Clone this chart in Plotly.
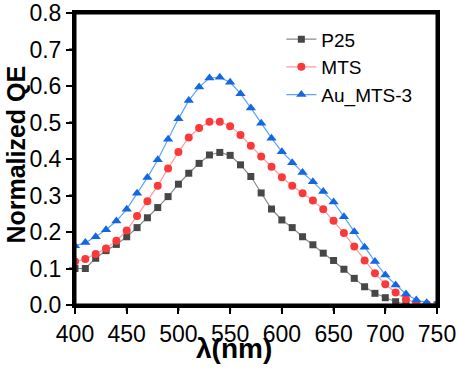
import plotly.graph_objects as go

wavelength = list(range(400, 751, 10))

p25 = [0.100, 0.100, 0.128, 0.149, 0.166, 0.187, 0.212, 0.239, 0.267, 0.297,
       0.331, 0.361, 0.388, 0.411, 0.418, 0.410, 0.384, 0.352, 0.307, 0.263,
       0.233, 0.212, 0.187, 0.165, 0.142, 0.122, 0.098, 0.073, 0.050, 0.032,
       0.020, 0.009, 0.002, 0.000, 0.000, 0.000]

mts = [0.119, 0.126, 0.140, 0.155, 0.176, 0.204, 0.244, 0.284, 0.327, 0.374,
       0.419, 0.459, 0.485, 0.502, 0.502, 0.490, 0.466, 0.436, 0.407, 0.379,
       0.350, 0.327, 0.306, 0.286, 0.262, 0.231, 0.197, 0.160, 0.122, 0.087,
       0.057, 0.034, 0.016, 0.006, 0.002, 0.000]

au_mts3 = [0.162, 0.171, 0.187, 0.206, 0.230, 0.262, 0.306, 0.349, 0.398, 0.454,
           0.510, 0.560, 0.597, 0.622, 0.624, 0.610, 0.579, 0.540, 0.498, 0.457,
           0.420, 0.390, 0.363, 0.338, 0.311, 0.282, 0.242, 0.201, 0.158, 0.119,
           0.082, 0.055, 0.030, 0.014, 0.006, 0.002]

x_major = [400, 450, 500, 550, 600, 650, 700, 750]
x_minor = [425, 475, 525, 575, 625, 675, 725]
y_major = [0.0, 0.1, 0.2, 0.3, 0.4, 0.5, 0.6, 0.7, 0.8]
y_minor = [0.05, 0.15, 0.25, 0.35, 0.45, 0.55, 0.65, 0.75]

x_range = [400, 750]
y_range = [0.0, 0.8]

FONT = "Arial, Liberation Sans, Helvetica, sans-serif"

fig = go.Figure()
fig.add_trace(go.Scatter(
    x=wavelength, y=p25, name="P25", mode="lines+markers",
    line=dict(color="#8a8a8a", width=1.2),
    marker=dict(symbol="square", size=7, color="#474747"),
))
fig.add_trace(go.Scatter(
    x=wavelength, y=mts, name="MTS", mode="lines+markers",
    line=dict(color="#ff9a9a", width=1.2),
    marker=dict(symbol="circle", size=8, color="#fa3a3a"),
))
fig.add_trace(go.Scatter(
    x=wavelength, y=au_mts3, name="Au_MTS-3", mode="lines+markers",
    line=dict(color="#5aa5f5", width=1.2),
    marker=dict(symbol="triangle-up", size=9, color="#1467e0"),
))

axis_common = dict(
    showline=True, linecolor="black", linewidth=3, mirror=True,
    ticks="outside", ticklen=6, tickwidth=2, tickcolor="black",
    showgrid=False, zeroline=False, automargin=False,
    tickfont=dict(family=FONT, size=23, color="black"),
)
fig.update_xaxes(range=x_range, tickmode="array", tickvals=x_major, **axis_common)
fig.update_yaxes(range=y_range, tickmode="array", tickvals=y_major,
                 tickformat=".1f", **axis_common)

frame = dict(color="black", width=3)
for x0, y0, x1, y1 in [(0, 0, 1, 0), (0, 1, 1, 1), (0, 0, 0, 1), (1, 0, 1, 1)]:
    fig.add_shape(type="line", xref="paper", yref="paper",
                  x0=x0, y0=y0, x1=x1, y1=y1, line=frame, layer="above")


def xfrac(v):
    return (v - x_range[0]) / (x_range[1] - x_range[0])


def yfrac(v):
    return (v - y_range[0]) / (y_range[1] - y_range[0])


tick_line = dict(color="black", width=2)
for v, ln in [(v, 6) for v in x_major] + [(v, 3) for v in x_minor]:
    f = xfrac(v)
    fig.add_shape(type="line", xref="paper", yref="paper", x0=f, x1=f,
                  ysizemode="pixel", yanchor=0, y0=0, y1=-ln,
                  line=tick_line, layer="above")
for v, ln in [(v, 6) for v in y_major] + [(v, 3) for v in y_minor]:
    f = yfrac(v)
    fig.add_shape(type="line", xref="paper", yref="paper", y0=f, y1=f,
                  xsizemode="pixel", xanchor=0, x0=0, x1=-ln,
                  line=tick_line, layer="above")

fig.add_annotation(
    text="<b>Normalized QE</b>", textangle=-90, showarrow=False,
    xref="paper", yref="paper", x=-0.163, y=0.515,
    xanchor="center", yanchor="middle",
    font=dict(family=FONT, size=25, color="black"),
)
fig.add_annotation(
    text="<b>λ(nm)</b>", showarrow=False,
    xref="paper", yref="paper", x=0.439, y=-0.148,
    xanchor="center", yanchor="middle",
    font=dict(family=FONT, size=28, color="black"),
)

fig.update_layout(
    width=459, height=373,
    margin=dict(l=75, r=22, t=13, b=68),
    paper_bgcolor="white", plot_bgcolor="white",
    showlegend=True,
    legend=dict(
        x=0.57, y=0.975, xanchor="left", yanchor="top",
        bgcolor="rgba(0,0,0,0)", borderwidth=0,
        font=dict(family=FONT, size=19, color="black"),
        tracegroupgap=0,
    ),
)

fig.write_html("out.html", config={"displayModeBar": False, "staticPlot": True},
               post_script="document.body.style.margin='0';")
